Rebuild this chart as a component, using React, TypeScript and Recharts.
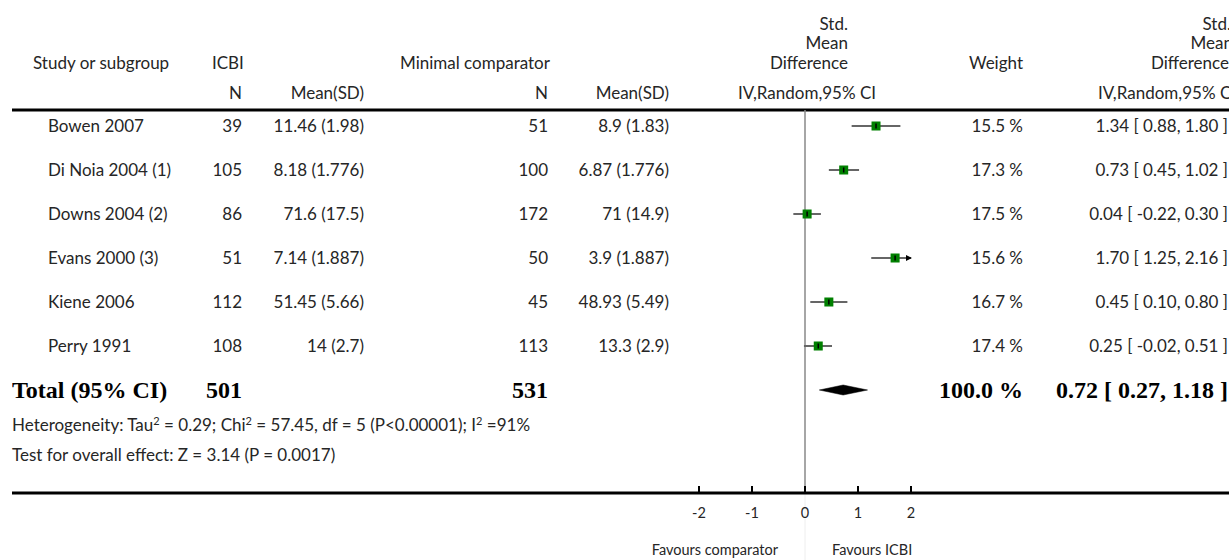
import { ComposedChart, XAxis, YAxis, Scatter, ErrorBar, Area, ReferenceLine } from 'recharts';

const studies = ['Bowen 2007', 'Di Noia 2004 (1)', 'Downs 2004 (2)', 'Evans 2000 (3)', 'Kiene 2006', 'Perry 1991'];
const icbiN = [39, 105, 86, 51, 112, 108];
const icbiMeanSd = ['11.46 (1.98)', '8.18 (1.776)', '71.6 (17.5)', '7.14 (1.887)', '51.45 (5.66)', '14 (2.7)'];
const compN = [51, 100, 172, 50, 45, 113];
const compMeanSd = ['8.9 (1.83)', '6.87 (1.776)', '71 (14.9)', '3.9 (1.887)', '48.93 (5.49)', '13.3 (2.9)'];
const weights = [15.5, 17.3, 17.5, 15.6, 16.7, 17.4];
const smd = [1.34, 0.73, 0.04, 1.7, 0.45, 0.25];
const ciLow = [0.88, 0.45, -0.22, 1.25, 0.1, -0.02];
const ciHigh = [1.8, 1.02, 0.3, 2.16, 0.8, 0.51];

const totalIcbiN = 501;
const totalCompN = 531;
const totalWeight = 100.0;
const totalSmd = 0.72;
const totalLow = 0.27;
const totalHigh = 1.18;

// [text, superscript] pieces
const heterogeneity: [string, string][] = [
  ['Heterogeneity: Tau', '2'],
  [' = 0.29; Chi', '2'],
  [' = 57.45, df = 5 (P<0.00001); I', '2'],
  [' =91%', ''],
];
const overallEffect = 'Test for overall effect: Z = 3.14 (P = 0.0017)';
const axisTicks = [-2, -1, 0, 1, 2];

// layout (pixels)
const W = 1229;
const H = 560;
const PLOT_LEFT = 12;
const ZERO_X = 805;
const PX_PER_UNIT = 53;
const PLOT_TOP = 110;
const AXIS_Y = 493;
const ROW0_Y = 126;
const ROW_GAP = 44;
const AXIS_LIMIT = 2;
const DIAMOND_HALF = 5 / ROW_GAP;

const xDomain: [number, number] = [(PLOT_LEFT - ZERO_X) / PX_PER_UNIT, (W - ZERO_X) / PX_PER_UNIT];
const yDomain: [number, number] = [(PLOT_TOP - ROW0_Y) / ROW_GAP, (AXIS_Y - ROW0_Y) / ROW_GAP];

const SANS = 'Lato, "Open Sans", sans-serif';
const SERIF = '"Liberation Serif", "DejaVu Serif", serif';
const INK = '#262626';
const FS = 17;
const FS_SMALL = 14.5;

const fmt = (v: number) => v.toFixed(2);
const ciText = (m: number, lo: number, hi: number) => `${fmt(m)} [ ${fmt(lo)}, ${fmt(hi)} ]`;

const tableRows = [
  ...studies.map((name, i) => ({
    x: 0,
    y: i,
    name,
    n1: String(icbiN[i]),
    m1: icbiMeanSd[i],
    n2: String(compN[i]),
    m2: compMeanSd[i],
    w: `${weights[i].toFixed(1)} %`,
    ci: ciText(smd[i], ciLow[i], ciHigh[i]),
    total: false,
  })),
  {
    x: 0,
    y: studies.length,
    name: 'Total (95% CI)',
    n1: String(totalIcbiN),
    m1: '',
    n2: String(totalCompN),
    m2: '',
    w: `${totalWeight.toFixed(1)} %`,
    ci: ciText(totalSmd, totalLow, totalHigh),
    total: true,
  },
];

const points = studies.map((name, i) => {
  const hi = Math.min(ciHigh[i], AXIS_LIMIT);
  return { name, x: smd[i], y: i, err: [smd[i] - ciLow[i], hi - smd[i]] };
});

const clipped = studies
  .map((name, i) => ({ name, x: AXIS_LIMIT, y: i, over: ciHigh[i] > AXIS_LIMIT }))
  .filter((d) => d.over);

const diamond = [
  { x: totalLow, r: [studies.length, studies.length] },
  { x: totalSmd, r: [studies.length - DIAMOND_HALF, studies.length + DIAMOND_HALF] },
  { x: totalHigh, r: [studies.length, studies.length] },
];

function RowText(props: any) {
  const { cy, payload } = props;
  const common = payload.total
    ? { fontFamily: SERIF, fontWeight: 700, fontSize: 24, fill: '#000' }
    : { fontFamily: SANS, fontSize: FS, fill: INK };
  const t = (x: number, s: string, anchor: 'start' | 'end') => (
    <text x={x} y={cy} dy="0.35em" textAnchor={anchor} {...common}>
      {s}
    </text>
  );
  return (
    <g>
      {t(payload.total ? 12 : 48, payload.name, 'start')}
      {t(242, payload.n1, 'end')}
      {t(364, payload.m1, 'end')}
      {t(548, payload.n2, 'end')}
      {t(669, payload.m2, 'end')}
      {t(1023, payload.w, 'end')}
      {t(1228, payload.ci, 'end')}
    </g>
  );
}

function Square(props: any) {
  const { cx, cy } = props;
  return (
    <g>
      <rect x={cx - 4.5} y={cy - 4.5} width={9} height={9} fill="#008000" />
      <line x1={cx} x2={cx} y1={cy - 2.5} y2={cy + 2.5} stroke="#000" strokeWidth={1.5} />
    </g>
  );
}

function Arrow(props: any) {
  const { cx, cy } = props;
  return <path d={`M${cx - 5},${cy - 3} L${cx + 1},${cy} L${cx - 5},${cy + 3} Z`} fill="#000" />;
}

function AxisTick(props: any) {
  const { x, y, payload } = props;
  return (
    <g>
      <line x1={x} x2={x} y1={y - 7} y2={y} stroke="#000" strokeWidth={2} />
      <text x={x} y={y + 20} dy="0.35em" textAnchor="middle" fontFamily={SANS} fontSize={FS_SMALL} fill={INK}>
        {payload.value}
      </text>
    </g>
  );
}

function Headers() {
  const txt = (x: number, y: number, s: string, anchor: 'start' | 'end' | 'middle', size = FS) => (
    <text x={x} y={y} dy="0.35em" textAnchor={anchor} fontFamily={SANS} fontSize={size} fill={INK}>
      {s}
    </text>
  );
  return (
    <svg width={W} height={H} style={{ position: 'absolute', left: 0, top: 0, pointerEvents: 'none' }}>
      {txt(33, 63, 'Study or subgroup', 'start')}
      {txt(212, 63, 'ICBI', 'start')}
      {txt(400, 63, 'Minimal comparator', 'start')}
      {txt(848, 24, 'Std.', 'end')}
      {txt(848, 43.5, 'Mean', 'end')}
      {txt(848, 63, 'Difference', 'end')}
      {txt(1023, 63, 'Weight', 'end')}
      {txt(1231, 24, 'Std.', 'end')}
      {txt(1233, 43.5, 'Mean', 'end')}
      {txt(1229, 63, 'Difference', 'end')}
      {txt(242, 93, 'N', 'end')}
      {txt(364, 93, 'Mean(SD)', 'end')}
      {txt(548, 93, 'N', 'end')}
      {txt(669, 93, 'Mean(SD)', 'end')}
      {txt(807, 93, 'IV,Random,95% CI', 'middle')}
      {txt(1236, 93, 'IV,Random,95% CI', 'end')}
      <text x={12} y={425} dy="0.35em" fontFamily={SANS} fontSize={FS} fill={INK}>
        {heterogeneity.map(([s, sup], i) => (
          <tspan key={i}>
            <tspan>{s}</tspan>
            {sup ? (
              <tspan fontSize={11} dy={-6}>
                {sup}
              </tspan>
            ) : null}
            {sup ? <tspan dy={6}> </tspan> : null}
          </tspan>
        ))}
      </text>
      {txt(12, 455, overallEffect, 'start')}
      {txt(778, 550, 'Favours comparator', 'end', FS_SMALL)}
      {txt(832, 550, 'Favours ICBI', 'start', FS_SMALL)}
    </svg>
  );
}

export default function App() {
  return (
    <div style={{ position: 'relative', width: W, height: H, background: '#fff', overflow: 'hidden' }}>
      <style>{'body{margin:0}'}</style>
      <ComposedChart
        width={W}
        height={H}
        margin={{ top: PLOT_TOP, right: 0, bottom: 0, left: PLOT_LEFT }}
      >
        <XAxis
          type="number"
          dataKey="x"
          domain={xDomain}
          allowDataOverflow
          ticks={axisTicks}
          interval={0}
          height={H - AXIS_Y}
          tickSize={0}
          tickMargin={0}
          tickLine={false}
          axisLine={{ stroke: '#000', strokeWidth: 3 }}
          tick={<AxisTick />}
        />
        <YAxis type="number" dataKey="y" domain={yDomain} allowDataOverflow reversed hide />
        <ReferenceLine y={yDomain[0]} stroke="#000" strokeWidth={3} ifOverflow="visible" />
        <ReferenceLine x={0} stroke="#888" strokeWidth={1.5} />
        <ReferenceLine
          segment={[
            { x: 0, y: yDomain[1] },
            { x: 0, y: yDomain[1] + (H - AXIS_Y) / ROW_GAP },
          ]}
          stroke="#eee"
          strokeWidth={1}
          ifOverflow="visible"
        />
        <Scatter data={tableRows} shape={<RowText />} isAnimationActive={false} />
        <Area
          data={diamond}
          dataKey="r"
          type="linear"
          fill="#000"
          fillOpacity={1}
          stroke="#000"
          strokeWidth={0.5}
          dot={false}
          activeDot={false}
          isAnimationActive={false}
        />
        <Scatter data={points} shape={<Square />} isAnimationActive={false}>
          <ErrorBar dataKey="err" direction="x" width={0} stroke="#666" strokeWidth={2} />
        </Scatter>
        <Scatter data={clipped} shape={<Arrow />} isAnimationActive={false} />
      </ComposedChart>
      <Headers />
    </div>
  );
}
